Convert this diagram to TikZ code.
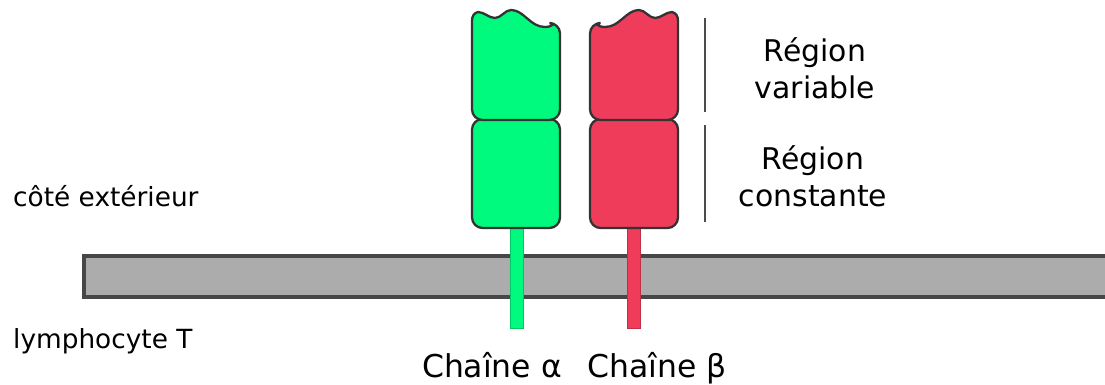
\documentclass[tikz,border=0pt]{standalone}
\usepackage{fontspec}
\setmainfont{DejaVu Sans}
\definecolor{vertalpha}{RGB}{0,250,125}
\definecolor{rougebeta}{RGB}{238,60,90}
\definecolor{membrane}{RGB}{172,172,172}
\begin{document}
\begin{tikzpicture}[x=0.02cm,y=-0.02cm,
    domaine/.style={draw=black!80,line width=1.3pt},
    petit/.style={font=\fontsize{15}{18}\selectfont},
    grand/.style={font=\fontsize{17}{21.3}\selectfont,align=center},
    chaine/.style={font=\fontsize{17.9}{21}\selectfont}]
    \useasboundingbox (0,0) rectangle (1105,385);
    \clip (0,0) rectangle (1105,385);
    \draw[fill=membrane,draw=black!72,line width=2pt] (84,256) rectangle (1120,297);%membrane
    \fill[vertalpha,draw=vertalpha!80!black,line width=0.4pt] (510,222) rectangle (523,328);%tige alpha
    \fill[rougebeta,draw=rougebeta!80!black,line width=0.4pt] (627,222) rectangle (640,328);%tige beta
    \draw[domaine,fill=vertalpha,rounded corners=6pt] (472,119) rectangle (560,228);%constante alpha
    \draw[domaine,fill=rougebeta,rounded corners=6pt] (590,119) rectangle (678,228);%constante beta
    \draw[domaine,fill=vertalpha] (472,21) [rounded corners=6pt] -- (472,120) -- (560,120) -- (560,23) [sharp corners]
        .. controls (556,23) and (552,27) .. (545,27) .. controls (530,27) and (524,10) .. (511,10)
        .. controls (505,10) and (501,18) .. (495,18) .. controls (489,18) and (484,12) .. (478,12)
        .. controls (474,13) and (472,16) .. cycle;%variable alpha
    \draw[domaine,fill=rougebeta] (678,21) [rounded corners=6pt] -- (678,120) -- (590,120) -- (590,23) [sharp corners]
        .. controls (594,23) and (598,27) .. (605,27) .. controls (620,27) and (626,10) .. (639,10)
        .. controls (645,10) and (649,18) .. (655,18) .. controls (661,18) and (666,12) .. (672,12)
        .. controls (676,13) and (678,16) .. cycle;%variable beta
    \draw[black!70,line width=1.1pt] (705,18) -- (705,112);
    \draw[black!70,line width=1.1pt] (705,125) -- (705,222);
    \node[grand] (variable) at (815,68) {Région\\variable};
    \node[grand] (constante) at (813,176) {Région\\constante};
    \node[petit,anchor=base west] (exterieur) at (7,206) {côté extérieur};
    \node[petit,anchor=base west] (lympho) at (7,348) {lymphocyte T};
    \node[chaine,anchor=base] (alpha) at (492,377) {Chaîne α};
    \node[chaine,anchor=base] (beta) at (657,377) {Chaîne β};
\end{tikzpicture}
\end{document}
